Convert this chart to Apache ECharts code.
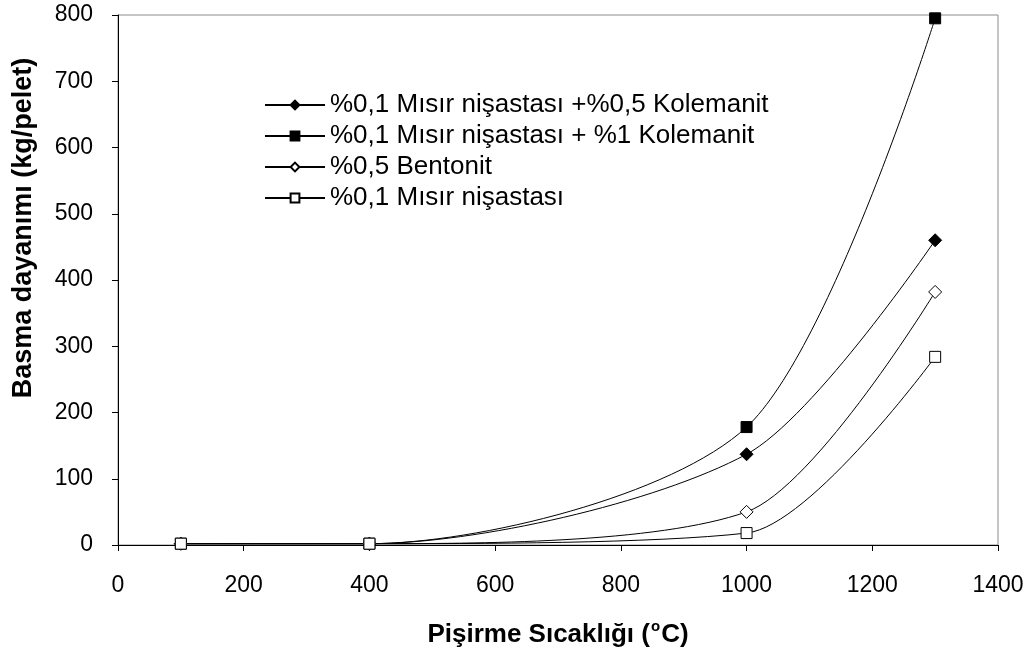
<!DOCTYPE html>
<html style="height: 100%">
<head>
  <meta charset="utf-8">
  <title>Basma dayanımı</title>
  <script src="https://cdn.jsdelivr.net/npm/echarts@6/dist/echarts.min.js"></script>
</head>
<body style="margin: 0; height: 100%; background: #fff">
  <div id="main" style="width: 1030px; height: 655px"></div>
  <script>
    // Pişirme sıcaklığı (°C)
    const temps = [100, 400, 1000, 1300];
    // Basma dayanımı (kg/pelet)
    const kolemanit05 = [2, 2, 137, 460];
    const kolemanit1 = [2, 2, 178, 795];
    const bentonit = [2, 2, 50, 382];
    const nisasta = [2, 2, 18, 284];

    const names = [
      '%0,1 Mısır nişastası +%0,5 Kolemanit',
      '%0,1 Mısır nişastası + %1 Kolemanit',
      '%0,5 Bentonit',
      '%0,1 Mısır nişastası'
    ];

    const font = 'Liberation Sans, Arial, sans-serif';
    const pairs = vals => temps.map((t, i) => [t, vals[i]]);

    function makeSeries(name, vals, symbol, filled, size) {
      return {
        name,
        type: 'line',
        data: pairs(vals),
        smooth: 0.28,
        symbol,
        symbolSize: size,
        showSymbol: true,
        lineStyle: { color: '#000', width: 1 },
        itemStyle: {
          color: filled ? '#000' : '#fff',
          borderColor: '#000',
          borderWidth: 1
        },
        emphasis: { disabled: true }
      };
    }

    const chart = echarts.init(document.getElementById('main'));
    chart.setOption({
      animation: false,
      textStyle: { fontFamily: font, color: '#000' },
      grid: {
        left: 118, right: 32, top: 15, bottom: 110,
        show: true, borderColor: '#8c8c8c', borderWidth: 1
      },
      legend: {
        orient: 'vertical',
        left: 264,
        top: 92,
        padding: 0,
        itemWidth: 60,
        itemHeight: 11,
        itemGap: 5,
        textStyle: { fontSize: 26, color: '#000', fontFamily: font },
        data: names
      },
      graphic: [{
        type: 'text',
        x: 24,
        y: 228,
        rotation: Math.PI / 2,
        style: {
          text: 'Basma dayanımı (kg/pelet)',
          font: 'bold 27px ' + font,
          fill: '#000',
          align: 'center',
          verticalAlign: 'middle'
        }
      }],
      xAxis: {
        type: 'value',
        min: 0, max: 1400, interval: 200,
        name: '{a|Pişirme Sıcaklığı (}{s|o}{a|C)}',
        nameLocation: 'middle',
        nameGap: 74,
        nameTextStyle: {
          rich: {
            a: { fontSize: 26, fontWeight: 'bold', color: '#000', fontFamily: font },
            s: { fontSize: 15, fontWeight: 'bold', color: '#000', fontFamily: font, padding: [0, 1, 16, 1] }
          }
        },
        axisLine: { show: true, lineStyle: { color: '#000', width: 1 } },
        axisTick: { show: true, length: 6, lineStyle: { color: '#000' } },
        axisLabel: { fontSize: 23, color: '#000', margin: 29, formatter: v => String(v) },
        splitLine: { show: false }
      },
      yAxis: {
        type: 'value',
        min: 0, max: 800, interval: 100,
        axisLine: { show: true, lineStyle: { color: '#000', width: 1 } },
        axisTick: { show: true, length: 6, lineStyle: { color: '#000' } },
        axisLabel: { fontSize: 23, color: '#000', margin: 25, formatter: v => String(v) },
        splitLine: { show: false }
      },
      series: [
        makeSeries(names[0], kolemanit05, 'diamond', true, 13),
        makeSeries(names[1], kolemanit1, 'rect', true, 11),
        makeSeries(names[2], bentonit, 'diamond', false, 13),
        makeSeries(names[3], nisasta, 'rect', false, 11)
      ]
    });
  </script>
</body>
</html>
